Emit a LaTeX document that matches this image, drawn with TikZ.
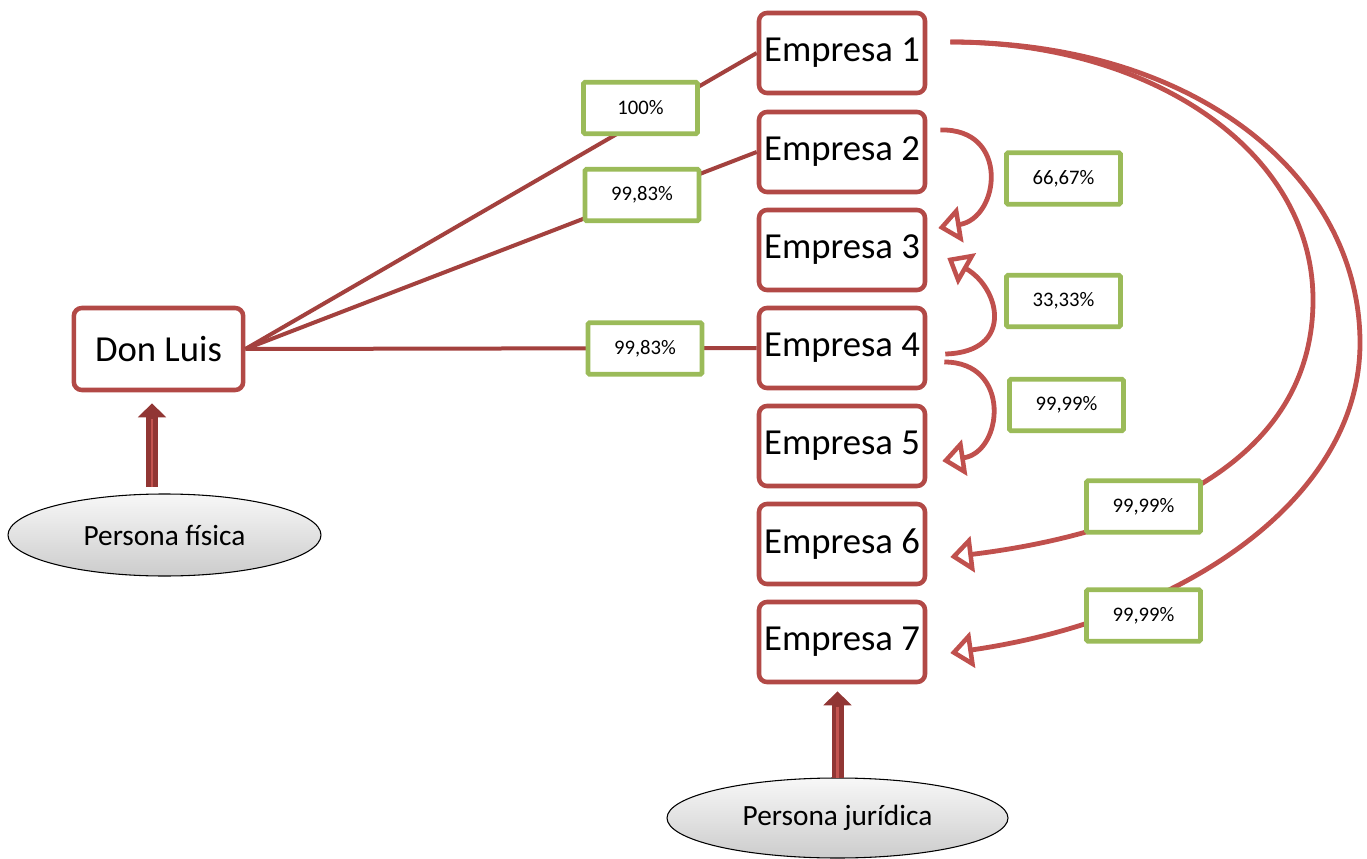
\documentclass[tikz,border=0pt]{standalone}
\usepackage{fontspec}
\setmainfont{Carlito}
\usetikzlibrary{arrows.meta,shapes.geometric,calc}
\definecolor{boxred}{RGB}{178,73,70}
\definecolor{curvered}{RGB}{192,80,77}
\definecolor{linered}{RGB}{163,65,62}
\definecolor{lblgreen}{RGB}{155,187,89}
\definecolor{arrowdark}{RGB}{145,54,52}
\definecolor{arrowlight}{RGB}{196,84,80}
\begin{document}
\begin{tikzpicture}[x=0.75pt,y=-0.75pt,
  company/.style={draw=boxred, line width=3.4pt, rounded corners=6pt, fill=white,
    minimum width=124.5pt, minimum height=60pt, inner sep=0pt,
    font=\fontsize{27.5}{30}\selectfont},
  pct/.style={draw=lblgreen, line width=3.6pt, rounded corners=1pt, fill=white,
    minimum width=85.5pt, minimum height=38.5pt, inner sep=0pt,
    font=\fontsize{15.5}{18}\selectfont},
  persona/.style={ellipse, draw=black, line width=0.8pt, top color=gray!6,
    bottom color=gray!40, inner sep=0pt, font=\fontsize{22}{26}\selectfont},
  own/.style={draw=linered, line width=3pt},
  curv/.style={draw=curvered, line width=3.6pt,
    -{Triangle[open, length=17pt, width=27pt, line width=3.4pt]}},
  blockarrow/.style={draw=arrowdark, line width=9pt,
    -{Triangle[length=10.5pt, width=20.5pt]}},
  blockstripe/.style={draw=arrowlight, line width=2.2pt}
]
\useasboundingbox (0,0) rectangle (1367,859);

% company nodes
\node[company] (E1) at (842,53) {Empresa 1};
\node[company] (E2) at (842,152) {Empresa 2};
\node[company] (E3) at (842,250) {Empresa 3};
\node[company] (E4) at (842,348) {Empresa 4};
\node[company] (E5) at (842,446) {Empresa 5};
\node[company] (E6) at (842,544) {Empresa 6};
\node[company] (E7) at (842,642) {Empresa 7};
\node[company, minimum width=127pt, minimum height=61.5pt] (DL) at (158.5,349) {Don Luis};

% persona ellipses
\node[persona, minimum width=234.75pt, minimum height=61.5pt] (PF) at (164.5,535) {Persona física};
\node[persona, minimum width=255.75pt, minimum height=60pt] (PJ) at (837.5,818) {Persona jurídica};

% ownership lines from Don Luis
\draw[own] (DL.east) -- (E1.west);
\draw[own] (DL.east) -- (E2.west);
\draw[own] (DL.east) -- (E4.west);

% curved ownership arrows
\draw[curv] ($(E2.east)+(13,-22)$) .. controls (1010,128) and (1000,218) .. ($(E3.east)+(11,-22)$);
\draw[curv] ($(E4.east)+(18,6)$) .. controls (1015,352) and (1000,288) .. ($(E3.east)+(20,8)$);
\draw[curv] ($(E4.east)+(17,14)$) .. controls (1012,362) and (1003,452) .. ($(E5.east)+(15,15)$);
\draw[curv] ($(E1.east)+(23,-11)$) .. controls (1150,42) and (1313,150) .. (1313,300)
   .. controls (1313,470) and (1130,535) .. ($(E6.east)+(23,13)$);
\draw[curv] ($(E1.east)+(23,-11)$) .. controls (1200,42) and (1360,180) .. (1360,343)
   .. controls (1360,500) and (1180,620) .. ($(E7.east)+(23,11)$);

% block arrows
\coordinate (pfa) at (152,487);
\draw[blockarrow] (pfa) -- ($(pfa |- DL.south)+(0,11)$);
\draw[blockstripe] (pfa) -- ($(pfa |- DL.south)+(0,27)$);
\draw[blockarrow] ($(PJ.north)+(0,1)$) -- ($(PJ.north |- E7.south)+(0,7)$);
\draw[blockstripe] ($(PJ.north)+(0,1)$) -- ($(PJ.north |- E7.south)+(0,23)$);

% percentage labels
\node[pct] (L1) at (640.5,108) {100\%};
\node[pct] (L2) at (642,195) {99,83\%};
\node[pct] (L3) at (645,348.5) {99,83\%};
\node[pct] (L4) at (1063.5,178.5) {66,67\%};
\node[pct] (L5) at (1063.5,301) {33,33\%};
\node[pct] (L6) at (1066.5,405) {99,99\%};
\node[pct] (L7) at (1143.5,506.5) {99,99\%};
\node[pct] (L8) at (1143.5,615.5) {99,99\%};
\end{tikzpicture}
\end{document}
